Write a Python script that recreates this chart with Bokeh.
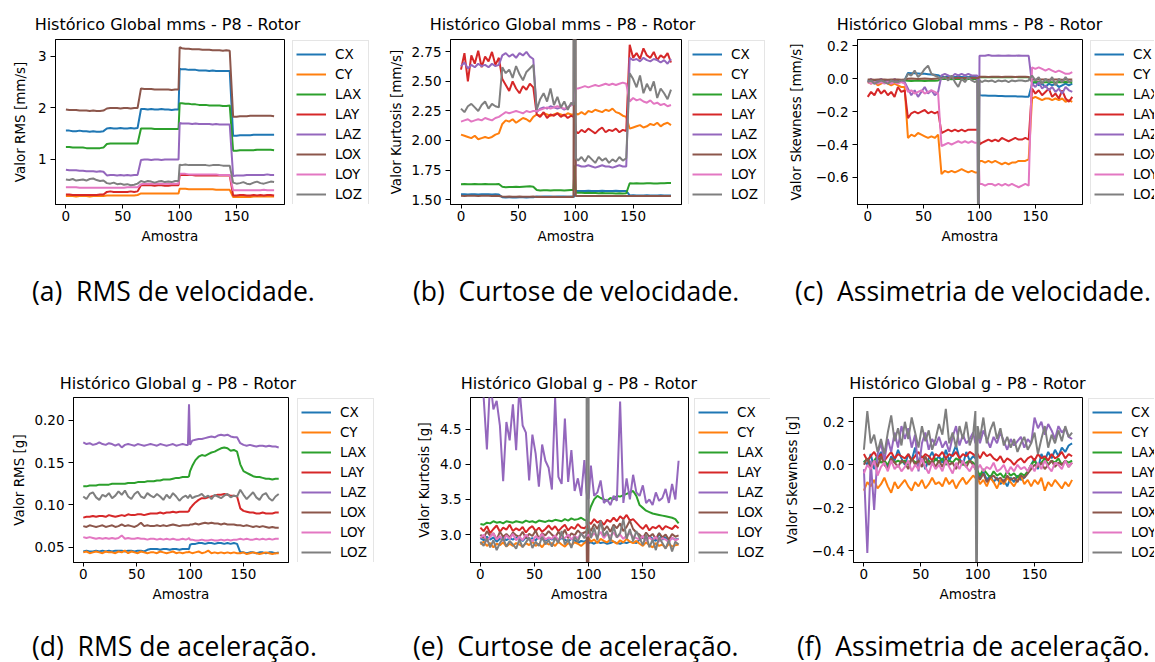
from bokeh.plotting import figure
from bokeh.models import Legend, LegendItem, Range1d, FixedTicker, CustomJSTickFormatter, Div
from bokeh.layouts import column, row
from bokeh.embed import file_html
from bokeh.resources import INLINE

# ---------------- data ----------------
SERIES = ["CX", "CY", "LAX", "LAY", "LAZ", "LOX", "LOY", "LOZ"]
SAMPLES = list(range(0, 97, 3)) + [98, 99, 100] + list(range(102, 184, 3))
X_TICKS = [0, 50, 100, 150]

# (a) RMS de velocidade [mm/s]
A_CX = [1.56, 1.56, 1.55, 1.55, 1.56, 1.55, 1.55, 1.54, 1.55, 1.54, 1.54, 1.55,
        1.60, 1.61, 1.60, 1.60, 1.61, 1.60, 1.60, 1.61, 1.60, 1.61,
        1.98, 1.98, 1.97, 1.98, 1.97, 1.97, 1.98, 1.97, 1.97, 1.96, 1.97, 1.97, 1.97,
        2.76, 2.75, 2.75, 2.74, 2.74, 2.74, 2.73, 2.73, 2.73, 2.72, 2.73, 2.72, 2.72, 2.72, 2.72, 2.72,
        1.46, 1.46, 1.47, 1.47, 1.47, 1.47, 1.48, 1.48, 1.48, 1.48, 1.48, 1.48, 1.48]
A_CY = [0.29, 0.29, 0.29, 0.28, 0.29, 0.29, 0.29, 0.28, 0.29, 0.29, 0.29, 0.29,
        0.30, 0.30, 0.30, 0.30, 0.30, 0.30, 0.30, 0.30, 0.30, 0.31,
        0.34, 0.34, 0.34, 0.34, 0.34, 0.34, 0.34, 0.34, 0.34, 0.34, 0.34, 0.34, 0.34,
        0.43, 0.43, 0.43, 0.42, 0.42, 0.42, 0.42, 0.42, 0.42, 0.42, 0.42, 0.41, 0.41, 0.41, 0.41, 0.41,
        0.27, 0.27, 0.27, 0.27, 0.27, 0.27, 0.28, 0.28, 0.28, 0.28, 0.28, 0.28, 0.28]
A_LAX = [1.24, 1.24, 1.23, 1.23, 1.23, 1.23, 1.22, 1.22, 1.22, 1.22, 1.22, 1.23,
         1.30, 1.31, 1.31, 1.31, 1.31, 1.31, 1.31, 1.31, 1.31, 1.31,
         1.60, 1.60, 1.60, 1.60, 1.59, 1.59, 1.59, 1.59, 1.59, 1.59, 1.59, 1.59, 1.59,
         2.09, 2.09, 2.08, 2.08, 2.07, 2.07, 2.06, 2.06, 2.06, 2.05, 2.05, 2.05, 2.05, 2.04, 2.04, 2.05,
         1.17, 1.17, 1.18, 1.18, 1.18, 1.18, 1.18, 1.19, 1.19, 1.19, 1.19, 1.19, 1.18]
A_LAY = [0.32, 0.32, 0.31, 0.31, 0.31, 0.31, 0.31, 0.31, 0.31, 0.31, 0.32, 0.32,
         0.37, 0.38, 0.37, 0.37, 0.37, 0.37, 0.37, 0.38, 0.37, 0.38,
         0.50, 0.50, 0.50, 0.50, 0.49, 0.50, 0.50, 0.49, 0.49, 0.50, 0.50, 0.50, 0.50,
         0.70, 0.70, 0.70, 0.70, 0.70, 0.69, 0.69, 0.69, 0.69, 0.69, 0.69, 0.69, 0.69, 0.69, 0.69, 0.69,
         0.30, 0.30, 0.31, 0.31, 0.30, 0.30, 0.31, 0.30, 0.31, 0.30, 0.31, 0.31, 0.30]
A_LAZ = [0.80, 0.79, 0.79, 0.79, 0.78, 0.78, 0.77, 0.77, 0.77, 0.76, 0.77, 0.76,
         0.69, 0.70, 0.70, 0.69, 0.70, 0.69, 0.70, 0.69, 0.70, 0.70,
         0.99, 1.00, 1.00, 0.99, 1.00, 1.00, 0.99, 1.00, 1.00, 1.00, 1.00, 1.00, 1.00,
         1.71, 1.70, 1.70, 1.70, 1.69, 1.70, 1.69, 1.69, 1.69, 1.69, 1.68, 1.69, 1.68, 1.68, 1.68, 1.68,
         0.68, 0.69, 0.69, 0.69, 0.70, 0.70, 0.70, 0.70, 0.70, 0.70, 0.71, 0.70, 0.70]
A_LOX = [1.97, 1.96, 1.96, 1.96, 1.95, 1.95, 1.95, 1.94, 1.95, 1.94, 1.94, 1.95,
         1.99, 2.00, 2.00, 2.00, 1.99, 2.00, 2.00, 1.99, 2.00, 2.00,
         2.38, 2.37, 2.37, 2.37, 2.36, 2.36, 2.36, 2.36, 2.36, 2.35, 2.36, 2.36, 2.36,
         3.18, 3.16, 3.15, 3.15, 3.14, 3.14, 3.14, 3.13, 3.13, 3.13, 3.12, 3.12, 3.12, 3.11, 3.12, 3.11,
         1.83, 1.83, 1.84, 1.84, 1.84, 1.85, 1.85, 1.85, 1.85, 1.85, 1.85, 1.85, 1.84]
A_LOY = [0.46, 0.46, 0.46, 0.46, 0.45, 0.45, 0.45, 0.45, 0.45, 0.45, 0.45, 0.45,
         0.45, 0.45, 0.45, 0.45, 0.45, 0.45, 0.46, 0.46, 0.46, 0.46,
         0.52, 0.53, 0.53, 0.53, 0.53, 0.53, 0.53, 0.53, 0.53, 0.53, 0.53, 0.53, 0.53,
         0.72, 0.72, 0.72, 0.71, 0.71, 0.71, 0.71, 0.71, 0.71, 0.71, 0.71, 0.71, 0.70, 0.70, 0.70, 0.70,
         0.40, 0.40, 0.40, 0.40, 0.40, 0.40, 0.40, 0.40, 0.40, 0.41, 0.40, 0.40, 0.40]
A_LOZ = [0.61, 0.60, 0.62, 0.59, 0.60, 0.61, 0.59, 0.62, 0.63, 0.60, 0.58, 0.59,
         0.54, 0.53, 0.55, 0.52, 0.53, 0.51, 0.52, 0.50, 0.51, 0.53,
         0.58, 0.56, 0.58, 0.57, 0.55, 0.57, 0.58, 0.56, 0.57, 0.56, 0.58, 0.58, 0.58,
         0.90, 0.89, 0.90, 0.89, 0.89, 0.89, 0.89, 0.89, 0.89, 0.88, 0.89, 0.89, 0.89, 0.88, 0.88, 0.88,
         0.55, 0.53, 0.54, 0.56, 0.53, 0.52, 0.55, 0.57, 0.54, 0.53, 0.55, 0.57, 0.56]

# (b) Curtose de velocidade
B_CX = [1.545, 1.544, 1.543, 1.545, 1.544, 1.543, 1.544, 1.545, 1.544, 1.543, 1.544, 1.542,
        1.520, 1.518, 1.519, 1.517, 1.518, 1.520, 1.519, 1.518, 1.519, 1.520,
        1.525, 1.524, 1.525, 1.526, 1.525, 1.524, 1.525, 1.526, 1.525, 1.524, 1.525, 1.525, 1.525,
        1.572, 1.573, 1.572, 1.573, 1.574, 1.573, 1.572, 1.573, 1.574, 1.573, 1.572, 1.573, 1.574, 1.573, 1.572, 1.573,
        1.535, 1.536, 1.535, 1.534, 1.535, 1.536, 1.535, 1.534, 1.535, 1.536, 1.535, 1.534, 1.535]
B_CY = [2.05, 2.04, 2.03, 2.02, 2.04, 2.01, 2.02, 2.03, 2.02, 2.03, 2.05, 2.06,
        2.14, 2.17, 2.16, 2.18, 2.15, 2.17, 2.19, 2.18, 2.16, 2.20,
        2.22, 2.21, 2.23, 2.22, 2.21, 2.22, 2.23, 2.22, 2.21, 2.23, 2.22, 2.22, 2.22,
        2.23, 2.22, 2.24, 2.22, 2.25, 2.24, 2.26, 2.25, 2.24, 2.26, 2.25, 2.27, 2.24, 2.23, 2.21, 2.20,
        2.10, 2.11, 2.12, 2.13, 2.11, 2.12, 2.14, 2.13, 2.15, 2.12, 2.14, 2.15, 2.13]
B_LAX = [1.630, 1.631, 1.629, 1.630, 1.632, 1.630, 1.629, 1.631, 1.630, 1.629, 1.630, 1.631,
         1.608, 1.605, 1.607, 1.606, 1.608, 1.607, 1.609, 1.611, 1.612, 1.608,
         1.580, 1.577, 1.578, 1.579, 1.577, 1.578, 1.579, 1.578, 1.577, 1.579, 1.580, 1.580, 1.790,
         1.560, 1.558, 1.557, 1.556, 1.557, 1.555, 1.556, 1.554, 1.555, 1.554, 1.553, 1.554, 1.552, 1.553, 1.552, 1.553,
         1.638, 1.636, 1.637, 1.635, 1.636, 1.638, 1.637, 1.636, 1.635, 1.637, 1.638, 1.639, 1.640]
B_LAY = [2.60, 2.74, 2.50, 2.72, 2.65, 2.76, 2.62, 2.71, 2.67, 2.75, 2.64, 2.70,
         2.52, 2.47, 2.42, 2.50, 2.44, 2.40, 2.46, 2.43, 2.48, 2.45,
         2.22, 2.20, 2.24, 2.19, 2.22, 2.21, 2.23, 2.20, 2.22, 2.19, 2.21, 2.20, 2.21,
         2.08, 2.06, 2.09, 2.07, 2.10, 2.08, 2.06, 2.09, 2.11, 2.07, 2.09, 2.08, 2.10, 2.07, 2.09, 2.08,
         2.81, 2.70, 2.74, 2.69, 2.78, 2.72, 2.70, 2.75, 2.68, 2.72, 2.70, 2.74, 2.66]
B_LAZ = [2.63, 2.66, 2.61, 2.64, 2.62, 2.65, 2.63, 2.64, 2.62, 2.65, 2.63, 2.64,
         2.72, 2.74, 2.71, 2.73, 2.70, 2.74, 2.72, 2.75, 2.71, 2.69,
         2.24, 2.27, 2.28, 2.27, 2.29, 2.28, 2.27, 2.28, 2.26, 2.28, 2.30, 2.31, 2.32,
         1.79, 1.79, 1.78, 1.78, 1.79, 1.78, 1.77, 1.78, 1.79, 1.78, 1.78, 1.77, 1.78, 1.79, 1.78, 1.78,
         2.70, 2.68, 2.69, 2.67, 2.70, 2.68, 2.67, 2.69, 2.68, 2.66, 2.68, 2.65, 2.69]
B_LOX = [1.532, 1.531, 1.532, 1.533, 1.532, 1.531, 1.532, 1.533, 1.532, 1.531, 1.532, 1.530,
         1.525, 1.524, 1.525, 1.523, 1.524, 1.525, 1.524, 1.523, 1.524, 1.525,
         1.522, 1.523, 1.522, 1.521, 1.522, 1.523, 1.522, 1.521, 1.522, 1.523, 1.522, 1.522, 6.000,
         1.530, 1.531, 1.530, 1.529, 1.530, 1.531, 1.530, 1.529, 1.530, 1.531, 1.530, 1.529, 1.530, 1.531, 1.530, 1.529,
         1.530, 1.531, 1.530, 1.529, 1.530, 1.531, 1.530, 1.529, 1.530, 1.531, 1.530, 1.529, 1.530]
B_LOY = [2.16, 2.17, 2.18, 2.16, 2.17, 2.18, 2.17, 2.19, 2.18, 2.17, 2.19, 2.20,
         2.22, 2.24, 2.23, 2.24, 2.25, 2.24, 2.23, 2.25, 2.24, 2.25,
         2.25, 2.26, 2.27, 2.28, 2.27, 2.28, 2.29, 2.28, 2.27, 2.28, 2.30, 2.33, 2.36,
         2.44, 2.44, 2.45, 2.46, 2.45, 2.46, 2.47, 2.46, 2.47, 2.48, 2.47, 2.48, 2.47, 2.48, 2.49, 2.48,
         2.33, 2.36, 2.34, 2.35, 2.33, 2.32, 2.34, 2.31, 2.32, 2.30, 2.31, 2.29, 2.30]
B_LOZ = [2.27, 2.24, 2.29, 2.31, 2.28, 2.25, 2.30, 2.33, 2.27, 2.31, 2.29, 2.28,
         2.62, 2.57, 2.60, 2.53, 2.63, 2.56, 2.51, 2.58, 2.61, 2.64,
         2.26, 2.35, 2.40, 2.33, 2.44, 2.30, 2.37, 2.28, 2.33, 2.26, 2.32, 2.30, 9.00,
         1.85, 1.83, 1.86, 1.82, 1.87, 1.84, 1.81, 1.86, 1.83, 1.85, 1.81, 1.84, 1.82, 1.86, 1.83, 1.85,
         2.57, 2.52, 2.45, 2.55, 2.40, 2.48, 2.42, 2.50, 2.36, 2.44, 2.40, 2.35, 2.43]

# (c) Assimetria de velocidade
C_CX = [-0.010, -0.010, -0.012, -0.010, -0.011, -0.010, -0.012, -0.010, -0.011, -0.010, -0.010, -0.008,
        0.035, 0.034, 0.033, 0.032, 0.030, 0.030, 0.028, 0.026, 0.024, 0.022,
        0.012, 0.011, 0.012, 0.010, 0.011, 0.012, 0.011, 0.010, 0.011, 0.012, 0.011, 0.011, 0.011,
        -0.100, -0.101, -0.102, -0.103, -0.104, -0.104, -0.105, -0.105, -0.106, -0.106, -0.107, -0.107, -0.108, -0.108, -0.109, -0.110,
        -0.030, -0.020, -0.040, -0.030, -0.050, -0.030, -0.040, -0.030, -0.050, -0.040, -0.030, -0.040, -0.030]
C_CY = [-0.02, -0.03, -0.02, -0.04, -0.03, -0.02, -0.03, -0.04, -0.03, -0.04, -0.05, -0.05,
        -0.36, -0.34, -0.35, -0.33, -0.34, -0.35, -0.36, -0.35, -0.36, -0.34,
        -0.58, -0.56, -0.57, -0.56, -0.57, -0.56, -0.55, -0.56, -0.57, -0.56, -0.57, -0.57, -0.57,
        -0.50, -0.50, -0.51, -0.50, -0.51, -0.50, -0.51, -0.52, -0.51, -0.52, -0.51, -0.51, -0.50, -0.50, -0.50, -0.49,
        -0.12, -0.11, -0.12, -0.13, -0.12, -0.12, -0.13, -0.12, -0.13, -0.12, -0.14, -0.13, -0.14]
C_LAX = [-0.010, -0.011, -0.010, -0.012, -0.011, -0.010, -0.011, -0.012, -0.010, -0.011, -0.010, -0.011,
         -0.012, -0.013, -0.012, -0.011, -0.012, -0.013, -0.012, -0.011, -0.012, -0.010,
         -0.002, -0.001, -0.002, -0.003, -0.002, -0.001, -0.002, -0.003, -0.002, -0.001, -0.002, -0.002, -0.002,
         0.010, 0.011, 0.010, 0.011, 0.010, 0.011, 0.010, 0.011, 0.010, 0.011, 0.010, 0.011, 0.010, 0.011, 0.010, 0.011,
         -0.020, -0.021, -0.020, -0.022, -0.021, -0.020, -0.021, -0.022, -0.020, -0.021, -0.020, -0.021, -0.022]
C_LAY = [-0.11, -0.08, -0.10, -0.06, -0.09, -0.07, -0.10, -0.08, -0.11, -0.05, -0.08, -0.07,
         -0.24, -0.21, -0.20, -0.21, -0.20, -0.19, -0.21, -0.20, -0.21, -0.20,
         -0.33, -0.32, -0.31, -0.32, -0.31, -0.32, -0.31, -0.32, -0.31, -0.31, -0.31, -0.31, -0.31,
         -0.40, -0.39, -0.38, -0.37, -0.38, -0.37, -0.38, -0.36, -0.37, -0.38, -0.37, -0.36, -0.37, -0.37, -0.36, -0.37,
         -0.06, -0.09, -0.07, -0.10, -0.08, -0.06, -0.11, -0.09, -0.12, -0.07, -0.12, -0.14, -0.11]
C_LAZ = [-0.02, 0.00, -0.03, -0.01, 0.00, -0.02, -0.01, -0.03, 0.00, -0.02, -0.01, -0.02,
         -0.06, -0.10, -0.07, -0.11, -0.08, -0.05, -0.09, -0.07, -0.10, -0.08,
         0.02, 0.03, 0.02, 0.01, 0.03, 0.02, 0.03, 0.02, 0.03, 0.02, 0.02, 0.02, -1.20,
         0.140, 0.140, 0.140, 0.145, 0.140, 0.140, 0.142, 0.140, 0.140, 0.142, 0.140, 0.140, 0.142, 0.140, 0.140, 0.140,
         -0.03, -0.05, -0.02, -0.06, -0.04, -0.07, -0.05, -0.08, -0.06, -0.09, -0.05, -0.07, -0.08]
C_LOX = [-0.005, -0.004, -0.006, -0.005, -0.004, -0.005, -0.006, -0.005, -0.004, -0.005, -0.006, -0.005,
         0.000, 0.001, 0.000, -0.001, 0.000, 0.001, 0.000, -0.001, 0.000, 0.001,
         0.005, 0.006, 0.005, 0.004, 0.005, 0.006, 0.005, 0.004, 0.005, 0.006, 0.005, 0.005, 0.005,
         0.012, 0.013, 0.012, 0.011, 0.012, 0.013, 0.012, 0.011, 0.012, 0.013, 0.012, 0.011, 0.012, 0.013, 0.012, 0.011,
         -0.005, -0.006, -0.005, -0.004, -0.005, -0.006, -0.005, -0.004, -0.005, -0.006, -0.005, -0.004, -0.005]
C_LOY = [-0.02, -0.03, -0.02, -0.03, -0.02, -0.03, -0.02, -0.03, -0.02, -0.03, -0.02, -0.03,
         -0.08, -0.07, -0.09, -0.08, -0.07, -0.09, -0.08, -0.07, -0.08, -0.09,
         -0.41, -0.40, -0.39, -0.40, -0.39, -0.38, -0.39, -0.38, -0.39, -0.38, -0.39, -0.39, -0.39,
         -0.64, -0.64, -0.65, -0.64, -0.64, -0.65, -0.64, -0.65, -0.64, -0.65, -0.64, -0.65, -0.66, -0.65, -0.64, -0.65,
         0.07, 0.06, 0.07, 0.06, 0.05, 0.06, 0.05, 0.04, 0.05, 0.04, 0.03, 0.03, 0.04]
C_LOZ = [-0.02, -0.01, -0.03, -0.02, -0.01, -0.02, -0.03, -0.01, -0.02, -0.02, -0.01, -0.01,
         0.03, 0.02, 0.05, 0.01, 0.03, 0.06, 0.08, 0.03, 0.02, 0.01,
         0.00, 0.01, -0.01, 0.02, -0.02, -0.05, 0.00, -0.02, 0.01, -0.01, -0.02, -0.01, -1.20,
         -0.010, -0.020, -0.010, -0.015, -0.010, -0.020, -0.010, -0.015, -0.010, -0.020, -0.010, -0.015, -0.010, -0.010, -0.015, -0.010,
         0.02, -0.01, 0.01, -0.03, 0.00, -0.02, 0.01, -0.04, 0.00, -0.02, 0.01, -0.02, -0.01]

# (d) RMS de aceleracao [g]
D_CX = [0.045, 0.046, 0.045, 0.045, 0.046, 0.045, 0.046, 0.045, 0.046, 0.045, 0.046, 0.046,
        0.046, 0.045, 0.046, 0.046, 0.045, 0.046, 0.046, 0.045, 0.047, 0.048,
        0.048, 0.048, 0.047, 0.048, 0.048, 0.047, 0.048, 0.048, 0.047, 0.048, 0.048, 0.048, 0.048,
        0.053, 0.054, 0.054, 0.055, 0.055, 0.054, 0.055, 0.055, 0.054, 0.055, 0.055, 0.054, 0.055, 0.054, 0.055, 0.054,
        0.044, 0.044, 0.043, 0.044, 0.044, 0.043, 0.044, 0.044, 0.043, 0.044, 0.044, 0.043, 0.044]
D_CY = [0.044, 0.045, 0.043, 0.044, 0.045, 0.044, 0.043, 0.045, 0.044, 0.044, 0.043, 0.045,
        0.044, 0.046, 0.043, 0.045, 0.044, 0.043, 0.045, 0.044, 0.043, 0.044,
        0.044, 0.043, 0.045, 0.044, 0.043, 0.044, 0.045, 0.043, 0.044, 0.043, 0.044, 0.044, 0.045,
        0.044, 0.043, 0.044, 0.045, 0.043, 0.044, 0.046, 0.043, 0.044, 0.043, 0.044, 0.043, 0.044, 0.043, 0.044, 0.043,
        0.043, 0.044, 0.042, 0.043, 0.044, 0.043, 0.042, 0.043, 0.044, 0.043, 0.042, 0.043, 0.043]
D_LAX = [0.122, 0.122, 0.123, 0.123, 0.123, 0.124, 0.124, 0.124, 0.124, 0.125, 0.125, 0.125,
         0.125, 0.125, 0.126, 0.126, 0.126, 0.127, 0.127, 0.127, 0.128, 0.128,
         0.128, 0.129, 0.129, 0.130, 0.130, 0.130, 0.131, 0.132, 0.132, 0.133, 0.133, 0.133, 0.134,
         0.140, 0.146, 0.153, 0.157, 0.159, 0.158, 0.160, 0.162, 0.163, 0.165, 0.167, 0.168, 0.167, 0.164, 0.165, 0.163,
         0.148, 0.140, 0.138, 0.136, 0.134, 0.133, 0.133, 0.132, 0.131, 0.131, 0.130, 0.131, 0.131]
D_LAY = [0.085, 0.086, 0.086, 0.087, 0.086, 0.087, 0.087, 0.086, 0.088, 0.087, 0.086, 0.087,
         0.088, 0.087, 0.089, 0.088, 0.088, 0.089, 0.089, 0.088, 0.089, 0.090,
         0.090, 0.090, 0.091, 0.090, 0.091, 0.091, 0.092, 0.091, 0.092, 0.092, 0.092, 0.092, 0.093,
         0.096, 0.099, 0.103, 0.106, 0.108, 0.108, 0.109, 0.110, 0.111, 0.112, 0.112, 0.113, 0.112, 0.111, 0.111, 0.110,
         0.096, 0.093, 0.092, 0.091, 0.091, 0.090, 0.090, 0.091, 0.090, 0.090, 0.090, 0.091, 0.091]
D_LAZ = [0.174, 0.172, 0.173, 0.171, 0.172, 0.174, 0.172, 0.171, 0.173, 0.172, 0.170, 0.172,
         0.168, 0.171, 0.172, 0.171, 0.170, 0.172, 0.171, 0.170, 0.171, 0.172,
         0.171, 0.170, 0.172, 0.171, 0.170, 0.171, 0.172, 0.170, 0.171, 0.172, 0.171, 0.171, 0.219,
         0.171, 0.176, 0.177, 0.178, 0.178, 0.179, 0.180, 0.181, 0.180, 0.182, 0.183, 0.182, 0.183, 0.181, 0.180, 0.180,
         0.173, 0.171, 0.170, 0.171, 0.170, 0.169, 0.170, 0.170, 0.169, 0.170, 0.169, 0.169, 0.168]
D_LOX = [0.075, 0.074, 0.076, 0.075, 0.074, 0.075, 0.076, 0.074, 0.075, 0.076, 0.074, 0.075,
         0.077, 0.075, 0.076, 0.075, 0.074, 0.076, 0.079, 0.075, 0.076, 0.075,
         0.075, 0.076, 0.075, 0.076, 0.075, 0.076, 0.077, 0.076, 0.075, 0.076, 0.076, 0.076, 0.076,
         0.077, 0.077, 0.078, 0.077, 0.078, 0.079, 0.078, 0.079, 0.078, 0.078, 0.077, 0.078, 0.077, 0.077, 0.077, 0.076,
         0.076, 0.075, 0.076, 0.075, 0.074, 0.075, 0.074, 0.075, 0.074, 0.073, 0.074, 0.073, 0.073]
D_LOY = [0.062, 0.061, 0.062, 0.061, 0.060, 0.061, 0.060, 0.061, 0.060, 0.061, 0.060, 0.061,
         0.064, 0.060, 0.061, 0.060, 0.060, 0.061, 0.060, 0.060, 0.059, 0.060,
         0.060, 0.059, 0.060, 0.059, 0.060, 0.059, 0.060, 0.059, 0.059, 0.060, 0.059, 0.060, 0.061,
         0.059, 0.059, 0.058, 0.058, 0.059, 0.058, 0.058, 0.059, 0.058, 0.058, 0.059, 0.058, 0.059, 0.058, 0.059, 0.059,
         0.060, 0.059, 0.060, 0.059, 0.059, 0.060, 0.059, 0.060, 0.059, 0.060, 0.059, 0.060, 0.060]
D_LOZ = [0.110, 0.107, 0.113, 0.115, 0.109, 0.106, 0.112, 0.110, 0.114, 0.108, 0.111, 0.116,
         0.112, 0.117, 0.110, 0.107, 0.113, 0.116, 0.110, 0.108, 0.114, 0.111,
         0.109, 0.113, 0.110, 0.106, 0.112, 0.108, 0.114, 0.110, 0.105, 0.109, 0.111, 0.108, 0.110,
         0.112, 0.108, 0.110, 0.111, 0.113, 0.109, 0.111, 0.107, 0.112, 0.110, 0.108, 0.111, 0.113, 0.109, 0.111, 0.110,
         0.118, 0.112, 0.107, 0.111, 0.115, 0.109, 0.106, 0.112, 0.114, 0.108, 0.105, 0.110, 0.113]

# (e) Curtose de aceleracao
E_CX = [2.95, 2.92, 2.97, 2.93, 2.96, 2.90, 2.94, 2.97, 2.92, 2.95, 2.93, 2.96,
        2.94, 2.91, 2.96, 2.93, 2.95, 2.92, 2.97, 2.94, 2.91, 2.95,
        2.93, 2.96, 2.92, 2.95, 2.93, 2.90, 2.94, 2.92, 2.88, 2.91, 2.90, 2.92, 2.93,
        2.88, 2.89, 2.87, 2.90, 2.88, 2.89, 2.87, 2.88, 2.90, 2.88, 2.87, 2.89, 2.88, 2.90, 2.89, 2.88,
        2.93, 2.96, 2.92, 2.98, 2.94, 2.91, 3.02, 2.93, 2.96, 2.92, 2.95, 2.93, 2.94]
E_CY = [2.86, 2.90, 2.84, 2.88, 2.82, 2.87, 2.85, 2.89, 2.83, 2.87, 2.84, 2.88,
        2.86, 2.83, 2.88, 2.85, 2.90, 2.84, 2.87, 2.82, 2.89, 2.86,
        2.88, 2.84, 2.90, 2.86, 2.83, 2.88, 2.85, 2.89, 2.87, 2.84, 2.88, 2.90, 2.92,
        2.95, 2.90, 2.93, 2.88, 2.94, 2.91, 2.89, 2.93, 2.90, 2.87, 2.92, 2.89, 2.94, 2.90, 2.88, 2.91,
        2.87, 2.84, 2.89, 2.85, 2.82, 2.88, 2.84, 2.86, 2.81, 2.87, 2.83, 2.85, 2.86]
E_LAX = [3.15, 3.14, 3.17, 3.16, 3.19, 3.17, 3.18, 3.16, 3.19, 3.18, 3.17, 3.19,
         3.18, 3.17, 3.20, 3.18, 3.19, 3.17, 3.20, 3.19, 3.18, 3.20,
         3.19, 3.21, 3.20, 3.19, 3.22, 3.20, 3.23, 3.21, 3.22, 3.24, 3.21, 3.20, 3.05,
         3.30, 3.40, 3.50, 3.55, 3.52, 3.50, 3.48, 3.52, 3.50, 3.55, 3.54, 3.56, 3.58, 3.60, 3.62, 3.55,
         3.42, 3.38, 3.34, 3.32, 3.30, 3.29, 3.28, 3.27, 3.26, 3.25, 3.24, 3.22, 3.16]
E_LAY = [3.10, 3.05, 3.12, 3.02, 3.08, 3.13, 3.04, 3.10, 3.07, 3.14, 3.05, 3.09,
         3.06, 3.11, 3.03, 3.09, 3.12, 3.05, 3.10, 3.04, 3.08, 3.13,
         3.07, 3.12, 3.05, 3.10, 3.14, 3.06, 3.11, 3.08, 3.15, 3.10, 3.09, 3.12, 3.10,
         3.18, 3.15, 3.22, 3.17, 3.20, 3.14, 3.21, 3.18, 3.24, 3.19, 3.26, 3.22, 3.28, 3.20, 3.22, 3.17,
         3.12, 3.08, 3.14, 3.06, 3.11, 3.09, 3.13, 3.07, 3.12, 3.10, 3.08, 3.13, 3.09]
E_LAZ = [5.30, 4.95, 4.21, 5.20, 4.78, 4.90, 4.55, 3.76, 4.60, 4.34, 4.85, 4.20,
         5.10, 4.55, 4.45, 3.77, 4.42, 4.15, 3.68, 4.28, 4.05, 3.95,
         3.64, 4.94, 3.82, 3.72, 4.65, 3.75, 4.20, 3.62, 3.80, 3.55, 4.06, 3.60, 3.50,
         3.52, 3.98, 3.55, 3.60, 3.77, 3.45, 3.50, 3.42, 3.55, 3.48, 4.89, 3.45, 3.80, 3.50, 3.85, 3.60,
         3.55, 3.70, 3.45, 3.50, 3.42, 3.60, 3.48, 3.52, 3.65, 3.45, 3.72, 3.50, 4.05]
E_LOX = [3.00, 2.95, 3.05, 2.98, 3.02, 2.93, 3.04, 2.97, 3.01, 2.96, 3.03, 2.99,
         2.97, 3.04, 2.95, 3.01, 2.98, 3.06, 2.94, 3.02, 2.99, 3.05,
         3.00, 2.96, 3.04, 2.98, 3.07, 2.95, 3.02, 2.99, 3.06, 3.01, 3.03, 3.05, 1.50,
         3.10, 3.05, 3.15, 3.08, 3.18, 3.06, 3.12, 3.04, 3.14, 3.09, 3.16, 3.05, 3.11, 3.20, 3.08, 3.03,
         3.00, 2.95, 3.03, 2.97, 3.01, 2.94, 3.02, 2.96, 3.00, 2.93, 3.01, 2.97, 2.99]
E_LOY = [2.95, 3.00, 2.90, 2.97, 3.02, 2.93, 2.98, 2.91, 2.99, 2.94, 3.01, 2.92,
         2.97, 2.92, 3.00, 2.95, 2.90, 2.98, 2.94, 3.01, 2.93, 2.96,
         2.94, 2.99, 2.92, 2.97, 2.95, 3.00, 2.93, 2.98, 2.95, 3.02, 2.96, 2.98, 2.99,
         3.00, 2.96, 3.02, 2.97, 3.04, 2.95, 3.01, 2.98, 3.03, 2.96, 3.00, 2.94, 2.99, 3.02, 2.97, 2.95,
         2.93, 2.98, 2.91, 2.96, 2.92, 2.97, 2.90, 2.95, 2.93, 2.89, 2.96, 2.92, 2.94]
E_LOZ = [2.90, 2.84, 2.95, 2.82, 2.92, 2.78, 2.88, 2.95, 2.83, 2.91, 2.86, 2.80,
         2.93, 2.82, 2.89, 2.96, 2.81, 2.90, 2.84, 2.97, 2.86, 2.92,
         2.83, 2.95, 2.88, 3.05, 2.86, 2.93, 2.81, 2.97, 2.90, 3.02, 2.95, 3.00, 30.0,
         3.15, 2.95, 3.10, 2.92, 3.20, 2.98, 3.05, 2.90, 3.12, 2.96, 3.02, 3.22, 2.94, 3.08, 2.91, 3.05,
         2.95, 2.85, 3.00, 2.82, 2.93, 2.78, 2.96, 2.88, 2.80, 2.92, 2.76, 2.90, 2.86]

# (f) Assimetria de aceleracao
F_CX = [0.02, 0.00, 0.05, -0.02, 0.03, 0.06, 0.01, -0.01, 0.04, 0.02, 0.07, 0.03,
        0.00, 0.05, 0.02, 0.08, 0.01, 0.04, -0.02, 0.03, 0.06, 0.02,
        0.04, 0.01, 0.07, 0.02, 0.05, 0.09, 0.03, 0.00, 0.06, 0.02, 0.04, 0.03, 0.02,
        -0.04, -0.06, -0.03, -0.07, -0.05, -0.08, -0.06, -0.09, -0.07, -0.10, -0.06, -0.08, -0.05, -0.07, -0.06, -0.04,
        0.00, 0.03, -0.02, 0.05, 0.02, 0.06, 0.03, 0.07, 0.04, 0.08, 0.06, 0.09, 0.10]
F_CY = [-0.12, -0.08, -0.10, -0.07, -0.11, -0.09, -0.06, -0.10, -0.13, -0.08, -0.11, -0.09,
        -0.07, -0.10, -0.12, -0.08, -0.10, -0.07, -0.11, -0.09, -0.06, -0.09,
        -0.08, -0.10, -0.06, -0.09, -0.07, -0.11, -0.08, -0.06, -0.09, -0.07, -0.05, -0.06, -0.07,
        -0.06, -0.09, -0.07, -0.10, -0.06, -0.08, -0.11, -0.07, -0.09, -0.06, -0.08, -0.10, -0.07, -0.05, -0.09, -0.07,
        -0.10, -0.07, -0.09, -0.06, -0.12, -0.08, -0.10, -0.07, -0.09, -0.11, -0.08, -0.10, -0.07]
F_LAX = [0.01, 0.03, 0.00, 0.02, 0.04, 0.01, 0.02, 0.00, 0.03, 0.01, 0.02, 0.01,
         0.02, 0.00, 0.03, 0.01, 0.02, 0.04, 0.01, 0.02, 0.00, 0.03,
         0.01, 0.03, 0.00, 0.02, 0.01, 0.03, 0.02, 0.00, 0.01, 0.02, 0.01, 0.00, -0.01,
         -0.03, -0.05, -0.02, -0.04, -0.06, -0.03, -0.05, -0.04, -0.06, -0.03, -0.05, -0.04, -0.06, -0.04, -0.05, -0.03,
         0.00, 0.02, -0.01, 0.01, 0.03, 0.00, 0.02, 0.01, 0.03, 0.00, 0.02, 0.01, 0.02]
F_LAY = [0.05, 0.02, 0.04, 0.06, 0.03, 0.05, 0.02, 0.04, 0.06, 0.03, 0.05, 0.04,
         0.03, 0.05, 0.02, 0.04, 0.06, 0.03, 0.05, 0.04, 0.02, 0.05,
         0.04, 0.06, 0.03, 0.05, 0.04, 0.06, 0.03, 0.05, 0.04, 0.06, 0.05, 0.04, 0.05,
         0.05, 0.03, 0.06, 0.04, 0.05, 0.03, 0.02, 0.04, 0.01, 0.03, 0.02, 0.00, 0.02, 0.03, 0.01, 0.03,
         0.04, 0.02, 0.05, 0.03, 0.04, 0.02, 0.05, 0.03, 0.04, 0.06, 0.03, 0.05, 0.04]
F_LAZ = [-0.02, -0.41, 0.02, -0.21, 0.05, 0.10, 0.02, 0.12, 0.06, 0.15, 0.08, 0.18,
         0.12, 0.17, 0.08, 0.14, -0.03, 0.10, 0.15, 0.07, 0.12, 0.09,
         0.13, 0.08, 0.11, 0.06, 0.13, 0.18, 0.09, 0.14, 0.10, 0.12, 0.15, 0.10, 0.12,
         0.14, 0.10, 0.16, 0.12, 0.08, 0.13, 0.10, 0.15, 0.11, 0.07, 0.12, 0.09, 0.11, 0.13, 0.08, 0.12,
         0.10, 0.22, 0.17, 0.20, 0.14, 0.19, 0.16, 0.12, 0.18, 0.15, 0.17, 0.13, 0.12]
F_LOX = [0.00, 0.03, -0.02, 0.02, -0.01, 0.04, 0.00, -0.02, 0.03, 0.01, -0.01, 0.02,
         0.01, -0.02, 0.03, 0.00, 0.02, -0.01, 0.04, 0.00, 0.02, -0.01,
         0.02, -0.01, 0.03, 0.00, 0.01, -0.02, 0.02, 0.01, -0.01, 0.02, 0.00, -0.02, -0.03,
         -0.05, -0.07, -0.04, -0.08, -0.06, -0.05, -0.07, -0.06, -0.08, -0.05, -0.07, -0.06, -0.08, -0.05, -0.06, -0.04,
         -0.02, 0.00, -0.01, 0.01, -0.02, 0.00, 0.02, -0.01, 0.01, 0.00, 0.02, -0.01, 0.01]
F_LOY = [-0.04, 0.00, -0.02, 0.02, -0.05, -0.01, 0.01, -0.03, 0.02, -0.02, 0.00, -0.03,
         -0.01, 0.02, -0.03, 0.00, -0.02, 0.03, -0.01, -0.04, 0.01, -0.02,
         0.00, -0.03, 0.02, -0.01, -0.04, 0.01, -0.02, 0.02, -0.01, -0.03, 0.00, -0.02, -0.01,
         -0.02, 0.00, -0.03, -0.01, -0.02, 0.01, -0.03, -0.02, 0.00, -0.04, -0.01, -0.03, 0.00, -0.02, -0.01, -0.03,
         0.00, -0.03, 0.01, -0.02, 0.02, -0.01, -0.03, 0.01, 0.00, -0.02, 0.02, -0.01, 0.01]
F_LOZ = [0.07, 0.25, 0.10, 0.14, 0.06, 0.12, 0.05, 0.15, 0.23, 0.11, 0.17, 0.09,
         0.20, 0.12, 0.22, 0.15, 0.08, 0.18, 0.11, 0.16, 0.07, 0.12,
         0.19, 0.14, 0.26, 0.10, 0.15, 0.08, 0.18, 0.12, 0.20, 0.09, 0.14, 0.25, -0.80,
         0.18, 0.12, 0.22, 0.10, 0.16, 0.20, 0.12, 0.17, 0.09, 0.13, 0.08, 0.12, 0.06, 0.10, 0.13, 0.07,
         0.10, 0.15, 0.05, 0.12, 0.18, 0.08, 0.14, 0.10, 0.16, 0.11, 0.18, 0.13, 0.15]

PANEL_A = dict(zip(SERIES, [A_CX, A_CY, A_LAX, A_LAY, A_LAZ, A_LOX, A_LOY, A_LOZ]))
PANEL_B = dict(zip(SERIES, [B_CX, B_CY, B_LAX, B_LAY, B_LAZ, B_LOX, B_LOY, B_LOZ]))
PANEL_C = dict(zip(SERIES, [C_CX, C_CY, C_LAX, C_LAY, C_LAZ, C_LOX, C_LOY, C_LOZ]))
PANEL_D = dict(zip(SERIES, [D_CX, D_CY, D_LAX, D_LAY, D_LAZ, D_LOX, D_LOY, D_LOZ]))
PANEL_E = dict(zip(SERIES, [E_CX, E_CY, E_LAX, E_LAY, E_LAZ, E_LOX, E_LOY, E_LOZ]))
PANEL_F = dict(zip(SERIES, [F_CX, F_CY, F_LAX, F_LAY, F_LAZ, F_LOX, F_LOY, F_LOZ]))

for pname, pdata in [("A", PANEL_A), ("B", PANEL_B), ("C", PANEL_C),
                     ("D", PANEL_D), ("E", PANEL_E), ("F", PANEL_F)]:
    for k, v in pdata.items():
        if len(v) != len(SAMPLES):
            raise ValueError(f"{pname}_{k} has {len(v)} values, expected {len(SAMPLES)}")

# ---------------- style ----------------
COLORS = ["#1f77b4", "#ff7f0e", "#2ca02c", "#d62728",
          "#9467bd", "#8c564b", "#e377c2", "#7f7f7f"]
FONT = "DejaVu Sans"
N_LAST = 183
XR = (-0.05 * N_LAST, 1.05 * N_LAST)


def make_plot(ylabel, data, yr, yticks, ydec, w, h, bl, br, bb, ystd):
    p = figure(width=w, height=h, output_backend="svg", toolbar_location=None,
               x_range=Range1d(*XR), y_range=Range1d(*yr),
               min_border_left=bl, min_border_right=br,
               min_border_top=1, min_border_bottom=bb,
               background_fill_color="white", border_fill_color="white")
    p.outline_line_color = "black"
    p.outline_line_width = 1
    p.outline_line_alpha = 1
    p.grid.visible = False

    for ax in (p.xaxis[0], p.yaxis[0]):
        ax.axis_line_color = "black"
        ax.major_tick_line_color = "black"
        ax.minor_tick_line_color = None
        ax.major_tick_in = 0
        ax.major_label_text_font = FONT
        ax.major_label_text_font_size = "13.5px"
        ax.major_label_text_color = "black"
        ax.axis_label_text_font = FONT
        ax.axis_label_text_font_size = "13.5px"
        ax.axis_label_text_font_style = "normal"
        ax.axis_label_text_color = "black"

    p.xaxis.ticker = FixedTicker(ticks=X_TICKS)
    p.xaxis.major_tick_out = 4
    p.xaxis.major_label_standoff = 2
    p.xaxis.axis_label = "Amostra"
    p.xaxis.axis_label_standoff = 4

    p.yaxis.ticker = FixedTicker(ticks=yticks)
    p.yaxis.formatter = CustomJSTickFormatter(
        code="return tick.toFixed(%d).replace('-', '\u2212');" % ydec)
    p.yaxis.major_tick_out = 5
    p.yaxis.major_label_standoff = 4
    p.yaxis.axis_label = ylabel
    p.yaxis.axis_label_standoff = ystd

    for name, color in zip(SERIES, COLORS):
        p.line(SAMPLES, data[name], line_color=color, line_width=2)
    return p


def make_legend(data, w, h):
    """Legend box in its own small canvas, to the right of the axes."""
    lf = figure(width=w, height=h, output_backend="svg", toolbar_location=None,
                x_range=Range1d(-2000, -1999), y_range=Range1d(-2000, -1999),
                x_axis_location=None, y_axis_location=None,
                min_border_left=0, min_border_right=max(w - 80, 0),
                min_border_top=0, min_border_bottom=h - 170,
                background_fill_color="white", border_fill_color="white")
    lf.outline_line_color = None
    lf.grid.visible = False
    items = []
    for name, color in zip(SERIES, COLORS):
        r = lf.line(SAMPLES, data[name], line_color=color, line_width=2)
        items.append(LegendItem(label=name, renderers=[r]))
    leg = Legend(items=items, location="top_left",
                 label_text_font=FONT, label_text_font_size="13.5px",
                 label_text_color="black",
                 glyph_width=30, glyph_height=20, label_height=20, label_width=30,
                 label_standoff=9, spacing=0, padding=3, margin=1,
                 border_line_color="#cccccc", border_line_width=1,
                 background_fill_color="white", background_fill_alpha=1)
    lf.add_layout(leg)
    return lf


def title_div(text, w, h, x_center, pad_top):
    html = ('<div style="display: inline-block; margin-left: %.1fpx; transform: translateX(-50%%); '
            'white-space: nowrap; font-family: \'DejaVu Sans\'; font-size: 16px; line-height: 16px; '
            'color: black; padding-top: %dpx;">%s</div>' % (x_center, pad_top, text))
    return Div(text=html, width=w, height=h, margin=(0, 0, 0, 0))


def caption(text, w, h, pad_left, pad_top):
    html = ('<div style="font-family: \'Open Sans\'; font-size: 26.5px; line-height: 1; '
            'white-space: pre; color: black; padding-left: %dpx; padding-top: %dpx;">%s</div>'
            % (pad_left, pad_top, text))
    return Div(text=html, width=w, height=h, margin=(0, 0, 0, 0))


T_MMS = "Histórico Global mms - P8 - Rotor"
T_G = "Histórico Global g - P8 - Rotor"

# row 1 (velocity)
ta = title_div(T_MMS, 377, 30, 43 + 233 / 2, 9)
tb = title_div(T_MMS, 385, 30, 59 + 237 / 2, 9)
tc = title_div(T_MMS, 384, 30, 87 + 225 / 2, 9)
fa = make_plot("Valor RMS [mm/s]", PANEL_A, (0.125, 3.33), [1, 2, 3], 0,
               283, 217, 43, 7, 51, 7)
la = make_legend(PANEL_A, 94, 217)
fb = make_plot("Valor Kurtosis [mm/s]", PANEL_B, (1.458, 2.855),
               [1.5, 1.75, 2.0, 2.25, 2.5, 2.75], 2,
               302, 217, 59, 6, 51, 4)
lb = make_legend(PANEL_B, 83, 217)
fc = make_plot("Valor Skewness [mm/s]", PANEL_C, (-0.765, 0.239),
               [-0.6, -0.4, -0.2, 0.0, 0.2], 1,
               319, 217, 87, 7, 51, 9)
lc = make_legend(PANEL_C, 65, 217)

# row 2 (acceleration)
td = title_div(T_G, 377, 41, 60 + 220 / 2, 21)
te = title_div(T_G, 385, 41, 85 + 218 / 2, 21)
tf = title_div(T_G, 384, 41, 83 + 229 / 2, 21)
fd = make_plot("Valor RMS [g]", PANEL_D, (0.032, 0.227),
               [0.05, 0.10, 0.15, 0.20], 2,
               288, 212, 60, 8, 46, 4)
ld = make_legend(PANEL_D, 89, 212)
fe = make_plot("Valor Kurtosis [g]", PANEL_E, (2.604, 4.948),
               [3.0, 3.5, 4.0, 4.5], 1,
               308, 212, 85, 5, 46, 5)
le = make_legend(PANEL_E, 77, 212)
ff = make_plot("Valor Skewness [g]", PANEL_F, (-0.454, 0.313),
               [-0.4, -0.2, 0.0, 0.2], 1,
               317, 212, 83, 5, 46, 9)
lf_ = make_legend(PANEL_F, 67, 212)

ca = caption("(a)  RMS de velocidade.", 377, 100, 24, 23)
cb = caption("(b)  Curtose de velocidade.", 385, 100, 28, 23)
cc = caption("(c)  Assimetria de velocidade.", 384, 100, 25, 23)
cd = caption("(d)  RMS de aceleração.", 377, 52, 24, 25)
ce = caption("(e)  Curtose de aceleração.", 385, 52, 28, 25)
cf = caption("(f)  Assimetria de aceleração.", 384, 52, 27, 25)

layout = column(row(ta, tb, tc), row(fa, la, fb, lb, fc, lc), row(ca, cb, cc),
                row(td, te, tf), row(fd, ld, fe, le, ff, lf_), row(cd, ce, cf),
                margin=(8, 0, 0, 8))

open("out.html", "w").write(file_html(layout, INLINE))
